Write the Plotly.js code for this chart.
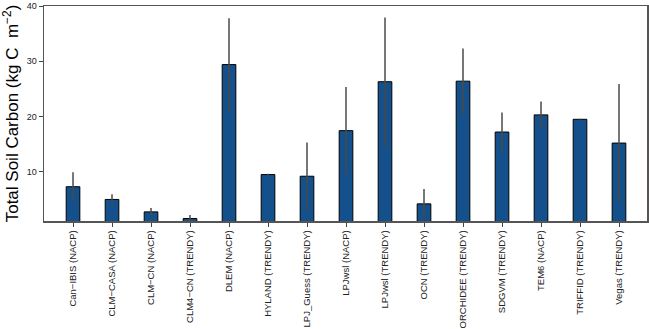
<!DOCTYPE html>
<html>
<head>
<meta charset="utf-8">
<script src="https://cdn.plot.ly/plotly-3.0.1.min.js"></script>
<style>html,body{margin:0;padding:0;background:#fff;}#chart{width:649px;height:329px;}</style>
</head>
<body>
<div id="chart"></div>
<script>
const models = [
  "Can\u2212IBIS (NACP)", "CLM\u2212CASA (NACP)", "CLM\u2212CN (NACP)", "CLM4\u2212CN (TRENDY)",
  "DLEM (NACP)", "HYLAND (TRENDY)", "LPJ_Guess (TRENDY)", "LPJwsl (NACP)",
  "LPJwsl (TRENDY)", "OCN (TRENDY)", "ORCHIDEE (TRENDY)", "SDGVM (TRENDY)",
  "TEM6 (NACP)", "TRIFFID (TRENDY)", "Vegas (TRENDY)"
];
const soilCarbon = [7.3, 5.0, 2.75, 1.55, 29.4, 9.5, 9.2, 17.45, 26.3, 4.2, 26.4, 17.2, 20.3, 19.5, 15.2];
const soilCarbonErr = [2.6, 0.95, 0.7, 0.65, 8.4, 0.15, 6.1, 7.9, 11.6, 2.7, 5.9, 3.55, 2.4, 0.1, 10.7];
const yTicks = [10, 20, 30, 40];
const yTitle = "Total Soil Carbon (kg C  m<sup>\u22122</sup>)";

const trace = {
  type: "bar",
  x: models.map((m, i) => i),
  y: soilCarbon,
  width: 0.35,
  marker: { color: "#14508c", line: { color: "#000000", width: 1 } },
  error_y: { type: "data", array: soilCarbonErr, visible: true, color: "#4a4a4a", thickness: 1.5, width: 0 },
  hoverinfo: "none"
};

const layout = {
  width: 649, height: 329,
  margin: { l: 44, r: 2, t: 6, b: 108 },
  paper_bgcolor: "#ffffff", plot_bgcolor: "#ffffff",
  showlegend: false,
  font: { family: "Liberation Sans, Arial, sans-serif", color: "#222" },
  xaxis: {
    range: [-0.744, 14.718],
    tickmode: "array",
    tickvals: models.map((m, i) => i),
    ticktext: models,
    tickangle: -90,
    tickfont: { size: 9.5, color: "#222" },
    ticks: "outside", ticklen: 4, tickcolor: "#444", tickwidth: 1,
    showline: true, linecolor: "#555", linewidth: 1.5, mirror: true,
    showgrid: false, zeroline: false
  },
  yaxis: {
    range: [1.1, 40],
    tickmode: "array",
    tickvals: yTicks,
    ticktext: yTicks.map(String),
    tickfont: { size: 9, color: "#222" },
    ticks: "outside", ticklen: 4, tickcolor: "#444", tickwidth: 1,
    showline: true, linecolor: "#555", linewidth: 1.5, mirror: true,
    showgrid: false, zeroline: false,
    title: { text: yTitle, font: { size: 17, color: "#000", family: "Liberation Sans, Arial, sans-serif" }, standoff: 5 }
  }
};

Plotly.newPlot("chart", [trace], layout, { staticPlot: true, displayModeBar: false });
</script>
</body>
</html>
